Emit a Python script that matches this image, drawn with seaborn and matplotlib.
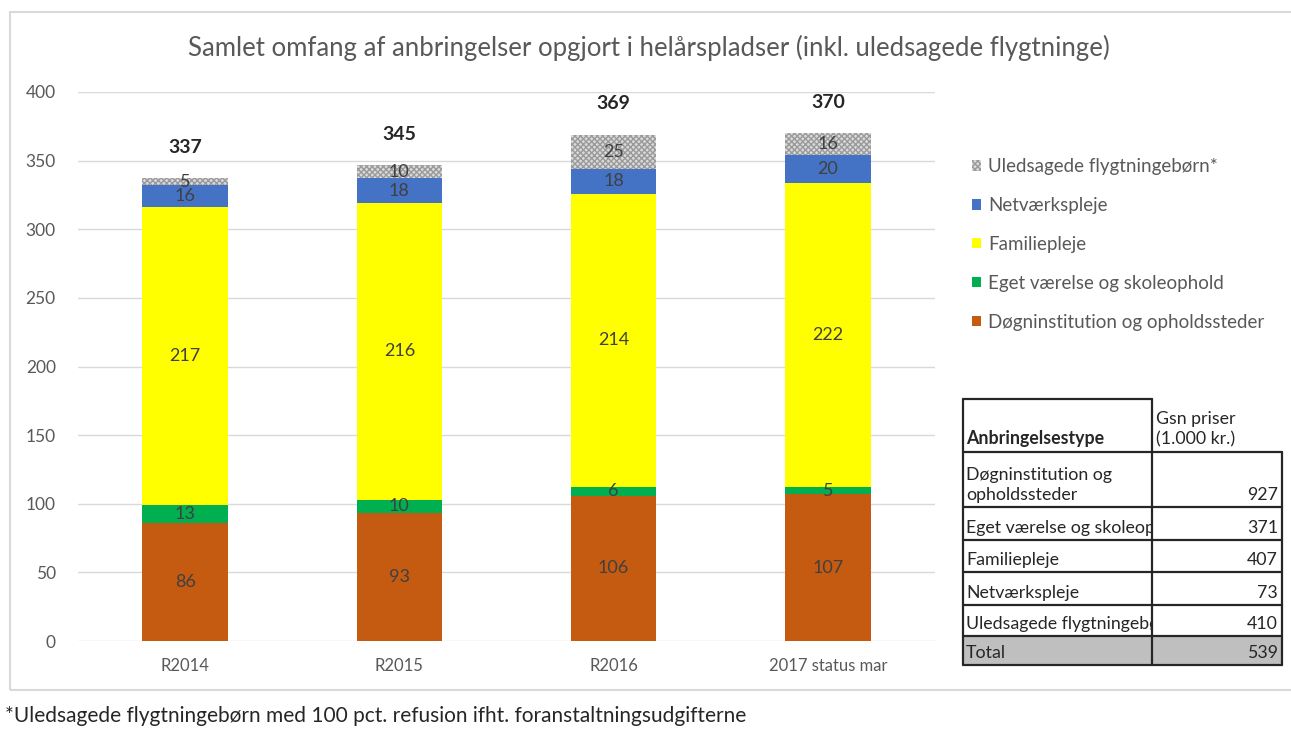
import numpy as np
import matplotlib.pyplot as plt
import matplotlib.patches as mpatches
from matplotlib.lines import Line2D
import seaborn as sns

sns.set_style("white")
plt.rcParams['font.family'] = ['Lato', 'DejaVu Sans']

# data
years = ["R2014", "R2015", "R2016", "2017 status mar"]
dogn = [86, 93, 106, 107]
eget = [13, 10, 6, 5]
familie = [217, 216, 214, 222]
netvaerk = [16, 18, 18, 20]
uledsagede = [5, 10, 25, 16]
totals = [337, 345, 369, 370]

series_names = ["Døgninstitution og opholdssteder", "Eget værelse og skoleophold",
                "Familiepleje", "Netværkspleje", "Uledsagede flygtningebørn*"]
series_colors = ["#C55A11", "#00B050", "#FFFF00", "#4472C4", "#DADADA"]

table_types = ["Døgninstitution og\nopholdssteder", "Eget værelse og skoleophold",
               "Familiepleje", "Netværkspleje", "Uledsagede flygtningebørn", "Total"]
table_prices = [927, 371, 407, 73, 410, 539]

W, H = 1291, 729
fig = plt.figure(figsize=(W / 100, H / 100), dpi=100)


def fx(px):
    return px / W


def fy(py):
    return 1 - py / H


# outer chart frame
fig.add_artist(mpatches.Rectangle((fx(10), fy(690)), fx(1300 - 10), (690 - 12) / H,
                                  transform=fig.transFigure, fill=False,
                                  edgecolor="#d9d9d9", linewidth=1.5))

ax = fig.add_axes([fx(78), fy(641), (935 - 78) / W, (641 - 92) / H])

bottom = np.zeros(len(years))
for name, vals, col in zip(series_names, [dogn, eget, familie, netvaerk, uledsagede], series_colors):
    sns.barplot(x=years, y=vals, bottom=bottom, color=col, saturation=1, width=0.4,
                errorbar=None, ax=ax)
    cont = ax.containers[-1]
    for p in cont:
        p.set_linewidth(0)
        if name.startswith("Uledsagede"):
            p.set_edgecolor("#9a9a9a")
            p.set_hatch("xxxxxx")
    ax.bar_label(cont, labels=[str(v) for v in vals], label_type="center",
                 fontsize=13, color="#404040")
    bottom += np.array(vals)

for i, t in enumerate(totals):
    ax.annotate(str(t), (i, bottom[i]), xytext=(0, 16), textcoords="offset points",
                ha="center", va="bottom", fontsize=14, fontweight="bold", color="#262626")

ax.set_ylim(0, 400)
ax.set_xlim(-0.5, 3.5)
ax.set_yticks(np.arange(0, 401, 50))
ax.yaxis.grid(True, color="#d9d9d9", linewidth=1)
ax.set_axisbelow(True)
for s in ax.spines.values():
    s.set_visible(False)
ax.tick_params(axis="y", length=0, pad=16, labelsize=12.5, labelcolor="#595959")
ax.tick_params(axis="x", length=0, pad=12, labelsize=12, labelcolor="#595959")
ax.set_xlabel("")
ax.set_ylabel("")

fig.text(fx(649), fy(48), "Samlet omfang af anbringelser opgjort i helårspladser (inkl. uledsagede flygtninge)",
         ha="center", va="center", fontsize=18.5, color="#595959")

# legend, top series first
handles = [mpatches.Patch(facecolor=c, edgecolor="#9a9a9a" if n.startswith("Uledsagede") else c,
                          hatch="xxxxxx" if n.startswith("Uledsagede") else None, linewidth=0)
           for n, c in zip(series_names, series_colors)]
fig.legend(handles[::-1], series_names[::-1], loc="upper left",
           bbox_to_anchor=(fx(955), fy(141)), frameon=False, fontsize=13.5,
           labelcolor="#595959", handlelength=0.5, handleheight=0.5,
           handletextpad=0.35, labelspacing=1.17)

# price table
col_l, col_m, col_r = 963, 1152, 1282
row_y = [452, 507, 540, 572, 605, 636, 665]
fig.add_artist(mpatches.Rectangle((fx(col_l), fy(row_y[-1])), (col_r - col_l) / W,
                                  (row_y[-1] - row_y[-2]) / H, transform=fig.transFigure,
                                  facecolor="#bfbfbf", edgecolor="none"))

lc = "#262626"


def hline(y, x0, x1):
    fig.add_artist(Line2D([fx(x0), fx(x1)], [fy(y), fy(y)], transform=fig.transFigure,
                          color=lc, linewidth=1.6))


def vline(x, y0, y1):
    fig.add_artist(Line2D([fx(x), fx(x)], [fy(y0), fy(y1)], transform=fig.transFigure,
                          color=lc, linewidth=1.6))


hline(399, col_l, col_m)
for y in row_y:
    hline(y, col_l, col_r)
vline(col_l, 399, row_y[-1])
vline(col_m, 399, row_y[-1])
vline(col_r, row_y[0], row_y[-1])

clip = mpatches.Rectangle((fx(col_l), 0), (col_m - col_l - 1) / W, 1, transform=fig.transFigure)
tfs = 12.8
fig.text(fx(966), fy(447), "Anbringelsestype", ha="left", va="bottom", fontsize=tfs,
         fontweight="bold", color=lc)
fig.text(fx(1156), fy(447), "Gsn priser\n(1.000 kr.)", ha="left", va="bottom", fontsize=tfs,
         color=lc, linespacing=1.3)
for i, (name, price) in enumerate(zip(table_types, table_prices)):
    yb = row_y[i + 1] - 4
    t = fig.text(fx(966), fy(yb), name, ha="left", va="bottom", fontsize=tfs, color=lc,
                 linespacing=1.3)
    t.set_clip_on(True)
    t.set_clip_path(clip)
    fig.text(fx(1278), fy(yb), str(price), ha="right", va="bottom", fontsize=tfs, color=lc)

fig.text(fx(5), fy(716), "*Uledsagede flygtningebørn med 100 pct. refusion ifht. foranstaltningsudgifterne",
         ha="left", va="center", fontsize=15, color="#262626")

fig.savefig("out.png", dpi=100)
